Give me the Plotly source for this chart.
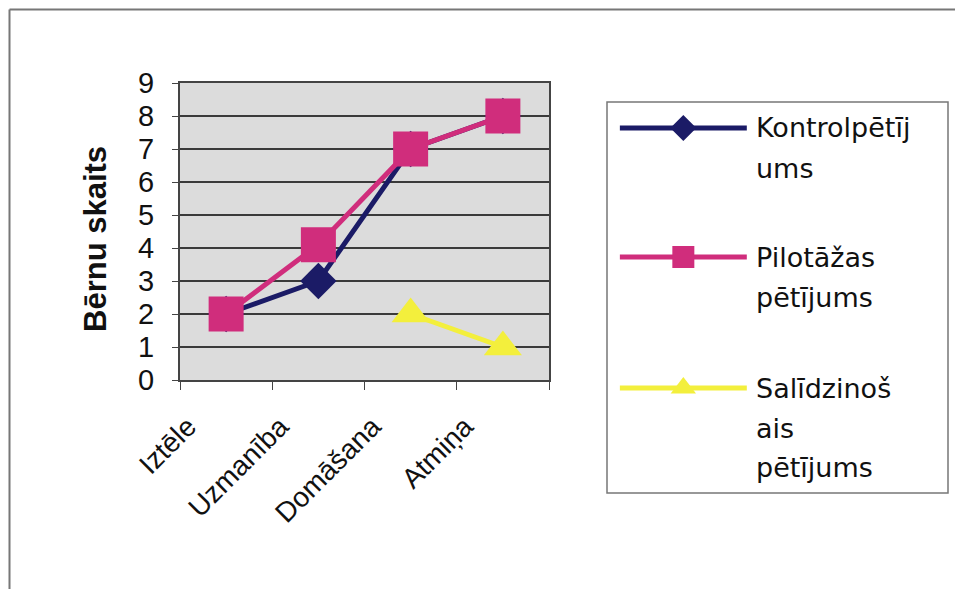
import plotly.graph_objects as go

# ---- data ----
categories = ["Iztēle", "Uzmanība", "Domāšana", "Atmiņa"]
kontrol = [2, 3, 7, 8]
pilotazas = [2, 4.1, 7, 8]
salidzinosais = [None, None, 2, 1]
series_names = ["Kontrolpētījums", "Pilotāžas pētījums", "Salīdzinošais pētījums"]
legend_lines = [["Kontrolpētīj", "ums"], ["Pilotāžas", "pētījums"], ["Salīdzinoš", "ais", "pētījums"]]
y_ticks = list(range(0, 10))

# page offset of the figure (browser body margin)
OFF = 8
W, H = 963 - OFF, 589 - OFF
NAVY = "#1b1b66"
PINK = "#d02d7c"
YELLOW = "#f3ef3c"

def px(x):
    return (x - OFF) / W

def py(y):
    return 1 - (y - OFF) / H

fig = go.Figure()

fig.add_trace(go.Scatter(x=categories, y=kontrol, name=series_names[0], mode="lines+markers",
                         line=dict(color=NAVY, width=5),
                         marker=dict(symbol="diamond", size=28, color=NAVY),
                         showlegend=False))
fig.add_trace(go.Scatter(x=categories, y=pilotazas, name=series_names[1], mode="lines+markers",
                         line=dict(color=PINK, width=5),
                         marker=dict(symbol="square", size=35, color=PINK),
                         showlegend=False))
fig.add_trace(go.Scatter(x=categories, y=salidzinosais, name=series_names[2], mode="lines+markers",
                         line=dict(color=YELLOW, width=5),
                         marker=dict(symbol="triangle-up", size=33, color=YELLOW),
                         showlegend=False))

# ---- manual legend on a pixel-space overlay axis ----
leg_y = [128, 257, 388]
leg_style = [("diamond", 20, NAVY), ("square", 22, PINK), ("triangle-up", 22, YELLOW)]
for (sym, sz, col), yy, nm in zip(leg_style, leg_y, series_names):
    fig.add_trace(go.Scatter(x=[617, 681, 745], y=[yy, yy, yy], mode="lines",
                             line=dict(color=col, width=5), xaxis="x2", yaxis="y2",
                             showlegend=False, hoverinfo="skip", name=nm))
    fig.add_trace(go.Scatter(x=[681], y=[yy], mode="markers",
                             marker=dict(symbol=sym, size=sz, color=col), xaxis="x2", yaxis="y2",
                             showlegend=False, hoverinfo="skip", name=nm))

annotations = []
for lines, yy in zip(legend_lines, leg_y):
    for i, t in enumerate(lines):
        annotations.append(dict(text=t, x=px(754), y=py(yy + i * 40), xref="paper", yref="paper",
                                xanchor="left", yanchor="middle", showarrow=False,
                                font=dict(family="DejaVu Sans", size=27, color="#111")))

annotations.append(dict(text="<b>Bērnu skaits</b>", x=px(95), y=py(239), xref="paper", yref="paper",
                        textangle=-90, showarrow=False, xanchor="center", yanchor="middle",
                        font=dict(family="Liberation Sans", size=31, color="#111")))

shapes = [
    # plot background
    dict(type="rect", xref="x domain", yref="y domain", x0=0, x1=1, y0=0, y1=1,
         fillcolor="#dcdcdc", line=dict(width=0), layer="below"),
    # legend box
    dict(type="rect", xref="paper", yref="paper", x0=px(607), x1=px(948), y0=py(493), y1=py(102),
         line=dict(color="#777", width=1.5), fillcolor="rgba(0,0,0,0)"),
    # outer frame (left and top)
    dict(type="line", xref="paper", yref="paper", x0=px(9.5), x1=px(9.5), y0=0, y1=py(9.5),
         line=dict(color="#777", width=2)),
    dict(type="line", xref="paper", yref="paper", x0=px(9.5), x1=1, y0=py(9.5), y1=py(9.5),
         line=dict(color="#777", width=2)),
]

fig.update_layout(
    width=W, height=H,
    margin=dict(l=0, r=0, t=0, b=0, pad=0, autoexpand=False),
    paper_bgcolor="white",
    plot_bgcolor="rgba(0,0,0,0)",
    showlegend=False,
    annotations=annotations,
    shapes=shapes,
    xaxis=dict(domain=[px(180), px(549)], type="category", categoryorder="array",
               categoryarray=categories, range=[-0.5, 3.5], automargin=False,
               showgrid=False, showline=True, linecolor="#444", linewidth=2, mirror=True,
               ticks="outside", tickson="boundaries", ticklen=8, tickcolor="#444",
               tickangle=-45, ticklabelshift=-38, ticklabelstandoff=17,
               tickfont=dict(family="Liberation Sans", size=28, color="#111"),
               anchor="y"),
    yaxis=dict(domain=[py(380), py(83)], range=[0, 9], tickvals=y_ticks, automargin=False,
               showgrid=True, gridcolor="#3a3a3a", gridwidth=1.5,
               showline=True, linecolor="#444", linewidth=2, mirror=True,
               ticks="outside", ticklen=6, tickcolor="#444", ticklabelstandoff=12,
               tickfont=dict(family="Liberation Sans", size=29, color="#111"),
               zeroline=False, anchor="x"),
    xaxis2=dict(domain=[0, 1], range=[0, 963], visible=False, anchor="y2", fixedrange=True,
                automargin=False),
    yaxis2=dict(domain=[0, 1], range=[589, OFF], visible=False, anchor="x2", fixedrange=True,
                automargin=False),
)

fig.write_html("out.html")
